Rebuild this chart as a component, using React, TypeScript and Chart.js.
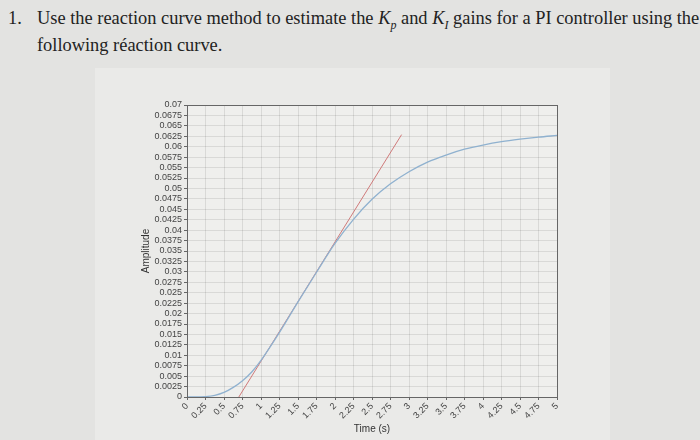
import React, { useEffect, useRef } from "react";
import { Chart, registerables } from "chart.js";

Chart.register(...registerables);

const blueTime = [0, 0.125, 0.25, 0.375, 0.5, 0.625, 0.75, 0.875, 1.0, 1.25, 1.5, 1.75, 2.0, 2.25, 2.5, 2.75, 3.0, 3.25, 3.5, 3.75, 4.0, 4.25, 4.5, 4.75, 5.0];
const blueAmp = [0, 0, 0.0001, 0.0004, 0.0011, 0.0023, 0.0039, 0.006, 0.0088, 0.0155, 0.0228, 0.0299, 0.0368, 0.0426, 0.0474, 0.0511, 0.054, 0.0563, 0.058, 0.0594, 0.0604, 0.0612, 0.0618, 0.0623, 0.0627];
const redTime = [0.7, 2.9];
const redAmp = [0, 0.0629];

const xMin = 0;
const xMax = 5;
const xStep = 0.25;
const yMin = 0;
const yMax = 0.07;
const yStep = 0.0025;

const boxPlugin = {
  id: "boxPlugin",
  beforeDraw(chart: any) {
    const { ctx, chartArea } = chart;
    ctx.save();
    ctx.fillStyle = "#efefed";
    ctx.fillRect(chartArea.left, chartArea.top, chartArea.right - chartArea.left, chartArea.bottom - chartArea.top);
    ctx.restore();
  },
  afterDraw(chart: any) {
    const { ctx, chartArea } = chart;
    ctx.save();
    ctx.strokeStyle = "#666";
    ctx.lineWidth = 1;
    ctx.strokeRect(chartArea.left + 0.5, chartArea.top + 0.5, chartArea.right - chartArea.left, chartArea.bottom - chartArea.top);
    ctx.restore();
  },
};

export default function App() {
  const ref = useRef<HTMLCanvasElement>(null);
  useEffect(() => {
    if (!ref.current) return;
    const chart = new Chart(ref.current, {
      type: "line",
      data: {
        datasets: [
          {
            label: "Response",
            data: blueTime.map((t, i) => ({ x: t, y: blueAmp[i] })),
            borderColor: "#8fb1cf",
            borderWidth: 1.3,
            pointRadius: 0,
            cubicInterpolationMode: "monotone",
            fill: false,
          },
          {
            label: "Tangent",
            data: redTime.map((t, i) => ({ x: t, y: redAmp[i] })),
            borderColor: "#cf7a7a",
            borderWidth: 1,
            pointRadius: 0,
            fill: false,
          },
        ],
      },
      options: {
        responsive: false,
        animation: false,
        layout: { padding: { left: 138, right: 143, top: 105, bottom: 3 } },
        plugins: { legend: { display: false }, tooltip: { enabled: false } },
        scales: {
          x: {
            type: "linear",
            min: xMin,
            max: xMax,
            afterFit: (s: any) => { s.height = 40; },
            ticks: {
              stepSize: xStep,
              autoSkip: false,
              minRotation: 45,
              maxRotation: 45,
              padding: 1,
              color: "#444",
              font: { family: "Liberation Sans", size: 9 },
              callback: (v: any) => String(Number(Number(v).toFixed(2))),
            },
            grid: { color: "rgba(0,0,0,0.09)", tickLength: 3, tickColor: "#666" },
            border: { color: "#666" },
            title: { display: true, text: "Time (s)", color: "#333", font: { family: "Liberation Sans", size: 10 }, padding: { top: 0, bottom: 2 } },
          },
          y: {
            type: "linear",
            min: yMin,
            max: yMax,
            afterFit: (s: any) => { s.width = 49; },
            ticks: {
              stepSize: yStep,
              autoSkip: false,
              padding: 2,
              color: "#444",
              font: { family: "Liberation Sans", size: 9 },
              callback: (v: any) => String(Number(Number(v).toFixed(4))),
            },
            grid: { color: "rgba(0,0,0,0.09)", tickLength: 3, tickColor: "#666" },
            border: { color: "#666" },
            title: { display: true, text: "Amplitude", color: "#333", font: { family: "Liberation Sans", size: 10 }, padding: { top: 2, bottom: 0 } },
          },
        },
      },
      plugins: [boxPlugin],
    } as any);
    return () => chart.destroy();
  }, []);

  const textStyle: React.CSSProperties = {
    position: "absolute",
    fontFamily: "'Liberation Serif', serif",
    fontSize: "18.4px",
    lineHeight: "20px",
    color: "#222",
    whiteSpace: "nowrap",
  };

  return (
    <div style={{ position: "fixed", left: 0, top: 0, width: 700, height: 440, background: "#e3e3e1", overflow: "hidden" }}>
      <div style={{ position: "absolute", left: 95, top: 68, width: 515, height: 372, background: "#eaeae8" }} />
      <div style={{ ...textStyle, left: 8, top: 8 }}>1.</div>
      <div style={{ ...textStyle, left: 37, top: 8 }}>
        Use the reaction curve method to estimate the <i>K</i><sub style={{ fontSize: "12px" }}><i>p</i></sub> and <i>K</i><sub style={{ fontSize: "12px" }}><i>I</i></sub> gains for a PI controller using the
      </div>
      <div style={{ ...textStyle, left: 37, top: 35 }}>following réaction curve.</div>
      <canvas ref={ref} width={700} height={440} style={{ position: "absolute", left: 0, top: 0 }} />
    </div>
  );
}
